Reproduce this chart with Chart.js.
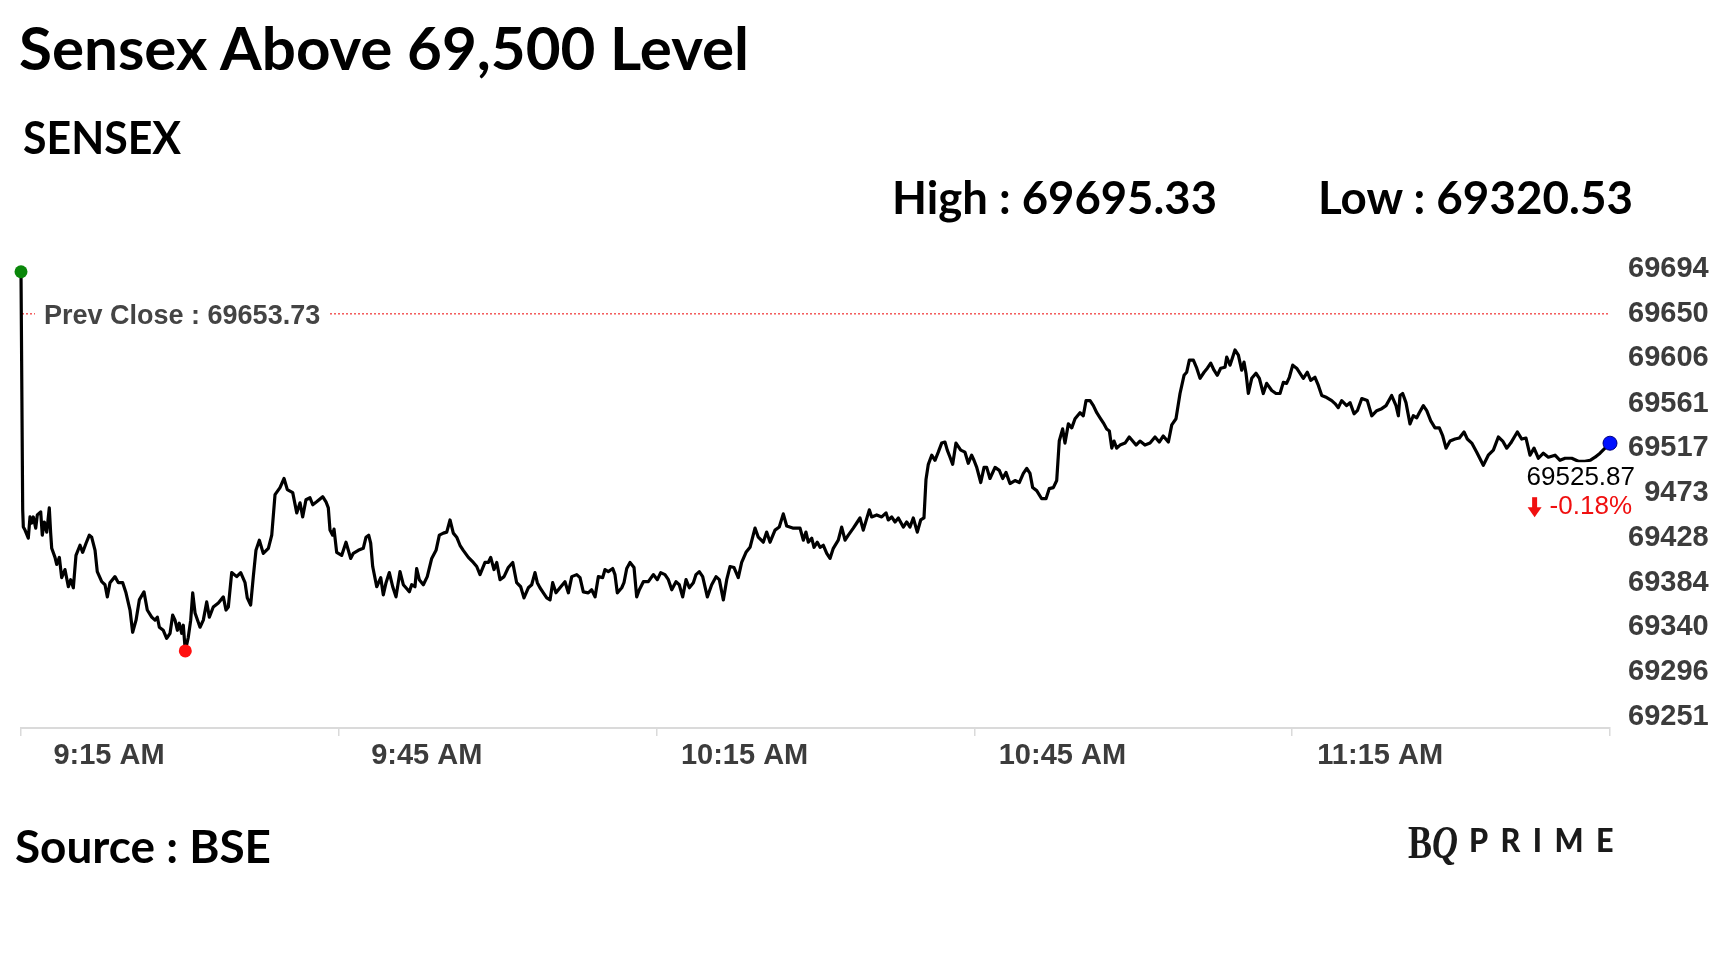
<!DOCTYPE html>
<html>
<head>
<meta charset="utf-8">
<script src="https://cdn.jsdelivr.net/npm/chart.js@4.4.1/dist/chart.umd.min.js"></script>
<style>
html, body { margin: 0; padding: 0; background: #fff; }
#wrap { position: relative; width: 1728px; height: 972px; overflow: hidden; }
#c { position: absolute; left: 0; top: 0; }
.t { position: absolute; font-family: Lato, sans-serif; font-weight: 700; color: #000; white-space: nowrap; line-height: 1; transform-origin: 0 0; }
</style>
</head>
<body>
<div id="wrap">
  <canvas id="c" width="1728" height="972"></canvas>
  <div class="t" id="title" data-w="730" style="left:18.7px; top:17.7px; font-size:59px;">Sensex Above 69,500 Level</div>
  <div class="t" id="sub" data-w="158" style="left:23px; top:115px; font-size:45px;">SENSEX</div>
  <div class="t" id="high" data-w="325" style="left:891.5px; top:175px; font-size:45px;">High : 69695.33</div>
  <div class="t" id="low" data-w="315" style="left:1318px; top:175px; font-size:45px;">Low : 69320.53</div>
  <div class="t" id="src" data-w="256" style="left:15.4px; top:824px; font-size:45px;">Source : BSE</div>
  <div class="t" id="bq" data-w="50" style="left:1408px; top:820px; font-size:46px; font-family:'Liberation Serif', serif; color:#1a1a1a;">B<i>Q</i></div>
  <div class="t" id="prime" data-w="157" style="left:1469px; top:824px; font-size:32px; font-weight:900; letter-spacing:13px; color:#1a1a1a;">PRIME</div>
</div>
<script>
// minutes after 9:15 AM
const minutes = [
  0, 0.16, 0.22, 0.38, 0.69, 0.85, 1.01, 1.16, 1.39, 1.54,
  1.86, 2.01, 2.20, 2.43, 2.67, 2.80, 2.90, 3.21, 3.37, 3.62,
  3.84, 4.15, 4.47, 4.69, 4.94, 5.19, 5.57, 5.82, 6.14, 6.45,
  6.67, 6.99, 7.20, 7.62, 7.93, 8.15, 8.40, 8.87, 9.19, 9.60,
  9.91, 10.29, 10.54, 10.86, 11.17, 11.61, 11.92, 12.34, 12.65, 12.87,
  13.06, 13.43, 13.75, 14.07, 14.32, 14.54, 14.76, 14.94, 15.17, 15.32,
  15.51, 15.79, 16.02, 16.21, 16.43, 16.90, 17.21, 17.53, 17.78, 18.15,
  18.63, 19.10, 19.35, 19.57, 19.89, 20.36, 20.74, 21.15, 21.36, 21.68,
  21.93, 22.18, 22.50, 22.87, 23.35, 23.67, 23.98, 24.45, 24.83, 25.14,
  25.65, 26.03, 26.34, 26.59, 26.90, 27.28, 27.54, 27.91, 28.48, 28.79,
  29.01, 29.17, 29.42, 29.55, 29.80, 30.27, 30.68, 31.12, 31.37, 31.84,
  32.31, 32.57, 32.82, 33.01, 33.20, 33.58, 33.96, 34.20, 34.46, 34.77,
  35.09, 35.40, 35.78, 36.09, 36.34, 36.66, 36.88, 37.19, 37.35, 37.60,
  37.98, 38.35, 38.77, 39.18, 39.49, 39.87, 40.19, 40.50, 40.81, 41.13,
  41.44, 41.75, 42.23, 42.70, 43.02, 43.33, 43.80, 44.11, 44.34, 44.65,
  44.91, 45.22, 45.60, 46.00, 46.42, 46.79, 47.17, 47.48, 47.89, 48.21,
  48.52, 48.74, 48.99, 49.31, 49.63, 49.94, 50.19, 50.50, 50.88, 51.35,
  51.67, 51.99, 52.46, 52.77, 53.08, 53.55, 53.87, 54.19, 54.50, 54.91,
  55.13, 55.44, 55.86, 56.07, 56.29, 56.71, 56.92, 57.18, 57.49, 57.87,
  58.12, 58.37, 58.75, 59.22, 59.69, 60.07, 60.39, 60.79, 61.11, 61.43,
  61.83, 62.14, 62.46, 62.78, 63.09, 63.47, 63.72, 64.03, 64.35, 64.79,
  65.20, 65.61, 65.92, 66.30, 66.62, 66.93, 67.31, 67.71, 68.03, 68.44,
  68.82, 69.29, 69.60, 70.07, 70.39, 70.71, 71.18, 71.58, 71.96, 72.28,
  72.85, 73.54, 73.85, 74.10, 74.32, 74.64, 74.86, 75.17, 75.43, 75.74,
  76.06, 76.37, 76.68, 77.15, 77.47, 77.79, 78.10, 78.57, 78.89, 79.20,
  79.51, 80.08, 80.30, 80.78, 81.25, 81.66, 81.87, 82.19, 82.51, 82.82,
  83.29, 83.61, 83.92, 84.23, 84.61, 84.93, 85.24, 85.43, 85.65, 85.97,
  86.28, 86.59, 86.91, 87.22, 87.44, 87.70, 87.95, 88.26, 88.71, 89.11,
  89.42, 89.74, 89.96, 90.22, 90.60, 90.91, 91.16, 91.47, 91.95, 92.35,
  92.67, 92.98, 93.36, 93.83, 94.24, 94.62, 94.94, 95.25, 95.50, 95.88,
  96.35, 96.76, 97.07, 97.45, 97.77, 98.01, 98.33, 98.55, 98.87, 99.19,
  99.50, 99.97, 100.28, 100.54, 100.92, 101.23, 101.55, 101.86, 102.17, 102.49,
  102.74, 102.97, 103.18, 103.43, 103.75, 104.22, 104.62, 104.94, 105.26, 105.63,
  106.10, 106.58, 107.05, 107.45, 107.83, 108.31, 108.63, 109.03, 109.41, 109.79,
  110.04, 110.29, 110.67, 110.99, 111.30, 111.68, 111.99, 112.31, 112.62, 112.93,
  113.25, 113.66, 113.82, 114.13, 114.60, 114.92, 115.23, 115.45, 115.64, 115.86,
  116.18, 116.58, 116.90, 117.27, 117.59, 118.07, 118.47, 118.85, 119.16, 119.47,
  119.73, 120.05, 120.42, 121.05, 121.43, 121.75, 122.15, 122.47, 122.79, 123.26,
  123.73, 124.04, 124.35, 124.67, 125.14, 125.46, 125.84, 126.15, 126.57, 127.09,
  127.51, 127.98, 128.45, 128.86, 129.39, 129.80, 130.02, 130.18, 130.43, 130.74,
  131.12, 131.43, 131.76, 132.00, 132.38, 132.70, 133.08, 133.48, 133.89, 134.21,
  134.52, 134.90, 135.37, 135.78, 136.22, 136.53, 136.95, 137.42, 138.04, 138.51,
  138.99, 139.46, 139.87, 140.25, 140.63, 141.25, 141.67, 142.07, 142.45, 142.83,
  143.24, 143.71, 144.18, 144.81, 145.28, 145.76, 146.39, 147.01, 147.64, 148.12,
  148.59, 149.06, 149.53, 149.84, 150
];
const sensex = [
  69695.33, 69460, 69443, 69440, 69432, 69453, 69447, 69453, 69442, 69455,
  69458, 69435, 69448, 69438, 69462, 69437, 69422, 69413, 69406, 69413,
  69393, 69401, 69384, 69391, 69383, 69415, 69425, 69418, 69427, 69435,
  69433, 69420, 69399, 69389, 69386, 69374, 69388, 69394, 69388, 69388,
  69378, 69361, 69339, 69351, 69371, 69379, 69361, 69354, 69351, 69354,
  69344, 69341, 69333, 69338, 69356, 69351, 69341, 69348, 69338, 69346,
  69320.53, 69334, 69351, 69378, 69358, 69344, 69351, 69369, 69354, 69364,
  69368, 69374, 69361, 69364, 69398, 69394, 69398, 69388, 69373, 69366,
  69394, 69420, 69430, 69417, 69422, 69435, 69475, 69482, 69491, 69480,
  69477, 69457, 69467, 69453, 69470, 69472, 69465, 69468, 69473, 69468,
  69462, 69440, 69435, 69441, 69418, 69415, 69428, 69412, 69417, 69420,
  69422, 69433, 69435, 69427, 69404, 69384, 69393, 69376, 69388, 69398,
  69384, 69374, 69399, 69386, 69383, 69379, 69386, 69384, 69402, 69391,
  69386, 69394, 69412, 69420, 69435, 69437, 69438, 69450, 69437, 69433,
  69425, 69420, 69413, 69408, 69404, 69396, 69408, 69408, 69413, 69401,
  69408, 69391, 69394, 69403, 69408, 69388, 69384, 69373, 69383, 69386,
  69398, 69388, 69383, 69378, 69373, 69371, 69388, 69378, 69383, 69389,
  69378, 69394, 69396, 69393, 69379, 69378, 69381, 69374, 69394, 69393,
  69401, 69399, 69402, 69396, 69378, 69383, 69388, 69402, 69408, 69403,
  69374, 69381, 69389, 69389, 69396, 69391, 69398, 69396, 69391, 69381,
  69389, 69386, 69374, 69391, 69383, 69388, 69396, 69399, 69394, 69374,
  69386, 69394, 69391, 69371, 69391, 69404, 69403, 69393, 69408, 69418,
  69423, 69442, 69433, 69428, 69438, 69428, 69440, 69443, 69456, 69444,
  69442, 69442, 69430, 69438, 69428, 69432, 69423, 69428, 69423, 69425,
  69417, 69412, 69422, 69430, 69443, 69430, 69435, 69442, 69447, 69452,
  69440, 69460, 69453, 69455, 69453, 69457, 69450, 69453, 69448, 69452,
  69443, 69448, 69443, 69452, 69438, 69450, 69452, 69490, 69505, 69514,
  69509, 69517, 69526, 69527, 69519, 69512, 69505, 69526, 69519, 69517,
  69506, 69514, 69509, 69502, 69487, 69502, 69502, 69491, 69502, 69499,
  69491, 69497, 69486, 69489, 69487, 69496, 69501, 69496, 69482, 69479,
  69471, 69471, 69481, 69482, 69489, 69528, 69540, 69526, 69545, 69541,
  69550, 69556, 69553, 69568, 69568, 69563, 69556, 69551, 69546, 69540,
  69538, 69521, 69528, 69521, 69524, 69526, 69532, 69528, 69524, 69528,
  69524, 69526, 69532, 69527, 69533, 69527, 69544, 69550, 69575, 69593,
  69596, 69608, 69608, 69600, 69590, 69596, 69600, 69605, 69598, 69593,
  69600, 69601, 69611, 69603, 69618, 69613, 69598, 69606, 69595, 69575,
  69590, 69595, 69590, 69575, 69585, 69578, 69575, 69575, 69586, 69585,
  69591, 69603, 69600, 69590, 69596, 69588, 69591, 69583, 69573, 69571,
  69568, 69565, 69561, 69568, 69563, 69566, 69555, 69558, 69570, 69568,
  69553, 69558, 69560, 69563, 69573, 69563, 69553, 69573, 69575, 69566,
  69545, 69553, 69551, 69556, 69563, 69558, 69548, 69541, 69541, 69533,
  69521, 69528, 69530, 69531, 69537, 69530, 69526, 69517, 69504, 69514,
  69519, 69532, 69528, 69521, 69526, 69537, 69530, 69531, 69514, 69521,
  69511, 69516, 69512, 69514, 69509, 69511, 69511, 69508, 69508, 69509,
  69512, 69516, 69521, 69524, 69525.87
];
const yTicks = [69251, 69296, 69340, 69384, 69428, 69473, 69517, 69561, 69606, 69650, 69694];
const xTicks = [0, 30, 60, 90, 120, 150];
const xTickLabels = ['9:15 AM', '9:45 AM', '10:15 AM', '10:45 AM', '11:15 AM', ''];
const prevClose = 69653.73;
const lastClose = 69525.87;
const changePct = -0.18;

const yMin = 69244.4, yMax = 69709.9;
const lowIdx = sensex.indexOf(Math.min(...sensex));
const lastIdx = sensex.length - 1;
const points = minutes.map((m, i) => ({ x: m, y: sensex[i] }));

const tickFont = { family: 'Arial, "Liberation Sans", sans-serif', size: 29, weight: 'bold' };

const prevClosePlugin = {
  id: 'prevClose',
  beforeDatasetsDraw(chart) {
    const { ctx, chartArea } = chart;
    const y = chart.scales.y.getPixelForValue(prevClose);
    ctx.save();
    ctx.strokeStyle = '#f03030';
    ctx.lineWidth = 1.2;
    ctx.setLineDash([2, 2]);
    ctx.beginPath();
    ctx.moveTo(chartArea.left + 1, y);
    ctx.lineTo(chartArea.right, y);
    ctx.stroke();
    ctx.setLineDash([]);
    ctx.font = 'bold 27px Arial, "Liberation Sans", sans-serif';
    const label = 'Prev Close : ' + prevClose.toFixed(2);
    const w = ctx.measureText(label).width;
    const lx = chartArea.left + 23;
    ctx.fillStyle = '#fff';
    ctx.fillRect(lx - 9, y - 14, w + 18, 28);
    ctx.fillStyle = '#444';
    ctx.textBaseline = 'middle';
    ctx.fillText(label, lx, y + 3);
    ctx.restore();
  }
};

const lastLabelPlugin = {
  id: 'lastLabel',
  afterDatasetsDraw(chart) {
    const { ctx } = chart;
    const px = chart.scales.x.getPixelForValue(minutes[lastIdx]);
    const py = chart.scales.y.getPixelForValue(lastClose);
    ctx.save();
    ctx.fillStyle = '#fff';
    ctx.fillRect(px - 90, py + 19, 124, 58);
    ctx.textBaseline = 'middle';
    ctx.textAlign = 'right';
    ctx.font = '26px Arial, "Liberation Sans", sans-serif';
    ctx.fillStyle = '#000';
    ctx.fillText(lastClose.toFixed(2), px + 25, py + 35);
    ctx.fillStyle = '#f01010';
    const pct = changePct.toFixed(2) + '%';
    ctx.fillText(pct, px + 22, py + 64);
    const pw = ctx.measureText(pct).width;
    // down arrow icon
    const ax = px + 22 - pw - 15, ay = py + 54;
    ctx.fillRect(ax - 2.5, ay, 5, 11);
    ctx.beginPath();
    ctx.moveTo(ax - 7, ay + 10);
    ctx.lineTo(ax + 7, ay + 10);
    ctx.lineTo(ax, ay + 20);
    ctx.closePath();
    ctx.fill();
    ctx.restore();
  }
};

new Chart(document.getElementById('c'), {
  type: 'line',
  data: {
    datasets: [{
      data: points,
      borderColor: '#000',
      borderWidth: 3.2,
      tension: 0,
      fill: false,
      clip: false,
      borderJoinStyle: 'round',
      pointRadius: ctx => (ctx.dataIndex === 0 || ctx.dataIndex === lowIdx || ctx.dataIndex === lastIdx) ? (ctx.dataIndex === lastIdx ? 7 : 6.5) : 0,
      pointBackgroundColor: ctx => ctx.dataIndex === 0 ? '#0a870a' : (ctx.dataIndex === lowIdx ? '#ff1010' : '#0010ff'),
      pointBorderColor: ctx => ctx.dataIndex === lastIdx ? '#000080' : 'rgba(0,0,0,0)',
      pointBorderWidth: ctx => ctx.dataIndex === lastIdx ? 1 : 0,
      pointHoverRadius: 0
    }]
  },
  options: {
    responsive: false,
    animation: false,
    events: [],
    layout: { padding: { left: 21, top: 257, right: 0, bottom: 0 } },
    plugins: { legend: { display: false }, tooltip: { enabled: false } },
    scales: {
      x: {
        type: 'linear',
        min: 0,
        max: 150,
        afterBuildTicks: s => { s.ticks = xTicks.map(v => ({ value: v })); },
        afterFit: s => { s.height = 244; s.paddingLeft = 0; s.paddingRight = 0; },
        ticks: {
          autoSkip: false,
          maxRotation: 0,
          labelOffset: 88,
          padding: 3,
          color: '#3c3c3c',
          font: tickFont,
          callback: (v, i) => xTickLabels[i]
        },
        grid: { drawOnChartArea: false, drawTicks: true, tickLength: 8, color: '#dadada', lineWidth: 1.5 },
        border: { color: '#dadada', width: 2 }
      },
      y: {
        position: 'right',
        min: yMin,
        max: yMax,
        afterBuildTicks: s => { s.ticks = yTicks.map(v => ({ value: v })); },
        afterFit: s => { s.width = 118; s.paddingTop = 0; s.paddingBottom = 0; },
        ticks: {
          padding: 18,
          labelOffset: -4,
          color: '#3c3c3c',
          font: tickFont,
          callback: v => String(v)
        },
        grid: { display: false, drawTicks: false },
        border: { display: false }
      }
    }
  },
  plugins: [prevClosePlugin, lastLabelPlugin]
});

function fitTexts() {
  document.querySelectorAll('.t').forEach(el => {
    const target = parseFloat(el.dataset.w);
    el.style.transform = 'none';
    const w = el.getBoundingClientRect().width;
    if (w > 0) el.style.transform = 'scaleX(' + (target / w) + ')';
  });
}
fitTexts();
if (document.fonts) document.fonts.ready.then(fitTexts);
</script>
</body>
</html>
